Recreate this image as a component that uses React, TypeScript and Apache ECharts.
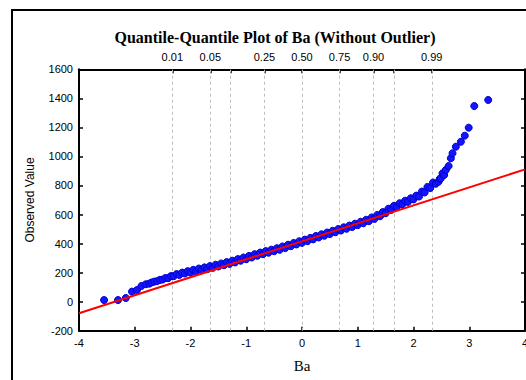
import React, { useEffect, useRef } from "react";
import * as echarts from "echarts";

const titleText = "Quantile-Quantile Plot of Ba (Without Outlier)";
const xName = "Ba";
const yName = "Observed Value";

// theoretical normal quantiles for the top (probability) axis
const quantileZ = [-2.326, -1.645, -1.282, -0.674, 0, 0.674, 1.282, 1.645, 2.326];
const quantileLabels = ["0.01", "0.05", "", "0.25", "0.50", "0.75", "0.90", "", "0.99"];

const lowerTail: number[][] = [
  [-3.55, 11], [-3.30, 11], [-3.16, 25], [-3.05, 69], [-2.96, 80], [-2.88, 108],
  [-2.80, 120], [-2.74, 124], [-2.70, 132],
];
const mainBand: number[][] = [
  [-2.65, 138], [-2.60, 141], [-2.55, 150], [-2.50, 152], [-2.45, 163], [-2.40, 162],
  [-2.35, 176], [-2.30, 176], [-2.25, 190], [-2.20, 184], [-2.15, 200], [-2.10, 194],
  [-2.05, 210], [-2.00, 200], [-1.95, 219], [-1.90, 208], [-1.85, 228], [-1.80, 217],
  [-1.75, 236], [-1.70, 224], [-1.65, 245], [-1.60, 233], [-1.55, 254], [-1.50, 242],
  [-1.45, 263], [-1.40, 251], [-1.35, 272], [-1.30, 260], [-1.25, 282], [-1.20, 270],
  [-1.15, 293], [-1.10, 282], [-1.05, 304], [-1.00, 292], [-0.95, 315], [-0.90, 304],
  [-0.85, 327], [-0.80, 316], [-0.75, 338], [-0.70, 327], [-0.65, 348], [-0.60, 337],
  [-0.55, 358], [-0.50, 347], [-0.45, 368], [-0.40, 357], [-0.35, 380], [-0.30, 369],
  [-0.25, 392], [-0.20, 382], [-0.15, 404], [-0.10, 394], [-0.05, 416], [0.00, 405],
  [0.05, 427], [0.10, 417], [0.15, 439], [0.20, 429], [0.25, 452], [0.30, 442],
  [0.35, 464], [0.40, 454], [0.45, 476], [0.50, 466], [0.55, 488], [0.60, 478],
  [0.65, 500], [0.70, 490], [0.75, 512], [0.80, 502], [0.85, 524], [0.90, 514],
  [0.95, 537], [1.00, 527], [1.05, 550], [1.10, 540], [1.15, 564], [1.20, 554],
  [1.25, 580], [1.30, 570], [1.35, 597], [1.40, 588], [1.45, 617], [1.50, 609],
  [1.55, 640], [1.60, 632], [1.65, 660], [1.70, 652], [1.75, 678], [1.80, 670],
  [1.85, 695], [1.90, 687], [1.95, 712], [2.00, 704], [2.05, 730], [2.10, 724],
  [2.15, 758], [2.20, 752], [2.25, 790], [2.30, 782], [2.35, 820], [2.40, 812],
];
const upperTail: number[][] = [
  [2.45, 826], [2.47, 845], [2.49, 849], [2.52, 884], [2.55, 872], [2.58, 907],
  [2.63, 934], [2.67, 987], [2.70, 1022], [2.76, 1067], [2.85, 1101], [2.92, 1143],
  [2.99, 1198], [3.09, 1347], [3.34, 1389],
];
// reference (fitted) line end points
const fitLine: number[][] = [[-4, -80], [4, 911]];

const xMin = -4, xMax = 4, xStep = 1;
const yMin = -200, yMax = 1600, yStep = 200;

export default function App() {
  const ref = useRef<HTMLDivElement>(null);
  useEffect(() => {
    if (!ref.current) return;
    const chart = echarts.init(ref.current, null, { renderer: "svg" });
    const axisLine = { show: true, onZero: false, lineStyle: { color: "#000", width: 2 } };
    const tick = { show: true, inside: true, length: 4, lineStyle: { color: "#000", width: 1.5 } };
    const labelFor = (v: number) => {
      const i = quantileZ.findIndex((z) => Math.abs(z - v) < 1e-6);
      return i >= 0 ? quantileLabels[i] : "";
    };
    chart.setOption({
      animation: false,
      backgroundColor: "#fff",
      textStyle: { fontFamily: "Liberation Sans", color: "#000" },
      title: {
        text: titleText,
        left: 270,
        textAlign: "center",
        top: 24,
        textStyle: { fontFamily: "Liberation Serif", fontWeight: "bold", fontSize: 16, color: "#000" },
      },
      graphic: [
        {
          type: "rect",
          shape: { x: 12, y: 10, width: 700, height: 600 },
          style: { fill: "none", stroke: "#000", lineWidth: 2 },
          silent: true,
        },
      ],
      grid: {
        left: 79, right: 1, top: 69.3, bottom: 49.3,
        containLabel: false, outerBoundsMode: "none",
      },
      xAxis: [
        {
          type: "value", position: "bottom", min: xMin, max: xMax, interval: xStep,
          axisLine, axisTick: tick, splitLine: { show: false },
          axisLabel: { color: "#000", fontSize: 11, margin: 7, fontFamily: "Liberation Sans", formatter: (v: number) => String(v) },
          name: xName, nameLocation: "middle", nameGap: 28,
          nameTextStyle: { fontFamily: "Liberation Serif", fontSize: 15, color: "#000" },
        },
        {
          type: "value", position: "top", min: xMin, max: xMax,
          axisLine,
          axisTick: { ...tick, customValues: quantileZ },
          splitLine: { show: false },
          axisLabel: {
            color: "#000", fontSize: 11, margin: 7, fontFamily: "Liberation Sans",
            customValues: quantileZ.filter((_, i) => quantileLabels[i] !== ""),
            formatter: labelFor,
          },
        },
      ],
      yAxis: [
        {
          type: "value", position: "left", min: yMin, max: yMax, interval: yStep,
          axisLine, axisTick: tick, splitLine: { show: false },
          axisLabel: { color: "#000", fontSize: 11, margin: 6, fontFamily: "Liberation Sans", formatter: (v: number) => String(v) },
          name: yName, nameLocation: "middle", nameGap: 43,
          nameTextStyle: { fontFamily: "Liberation Sans", fontSize: 12, color: "#000" },
        },
        {
          type: "value", position: "right", min: yMin, max: yMax, interval: yStep,
          axisLine, axisTick: tick, splitLine: { show: false },
          axisLabel: { show: false },
        },
      ],
      series: [
        {
          type: "line",
          data: [],
          z: 1,
          markLine: {
            silent: true,
            symbol: "none",
            z: 1,
            label: { show: false },
            lineStyle: { type: [3, 3], color: "#bdbdbd", width: 1 },
            data: quantileZ.map((z) => ({ xAxis: z })),
          },
        },
        {
          type: "scatter",
          data: [...lowerTail, ...mainBand, ...upperTail],
          symbol: "circle",
          symbolSize: 7,
          z: 2,
          itemStyle: { color: "#1414ff", borderColor: "#0000cc", borderWidth: 1, opacity: 1 },
        },
        {
          type: "line",
          data: fitLine,
          symbol: "none",
          z: 3,
          lineStyle: { color: "#ff0000", width: 2 },
        },
      ],
    });
    return () => chart.dispose();
  }, []);
  return (
    <div
      ref={ref}
      style={{ position: "absolute", left: 0, top: 0, width: 526, height: 380 }}
    />
  );
}
